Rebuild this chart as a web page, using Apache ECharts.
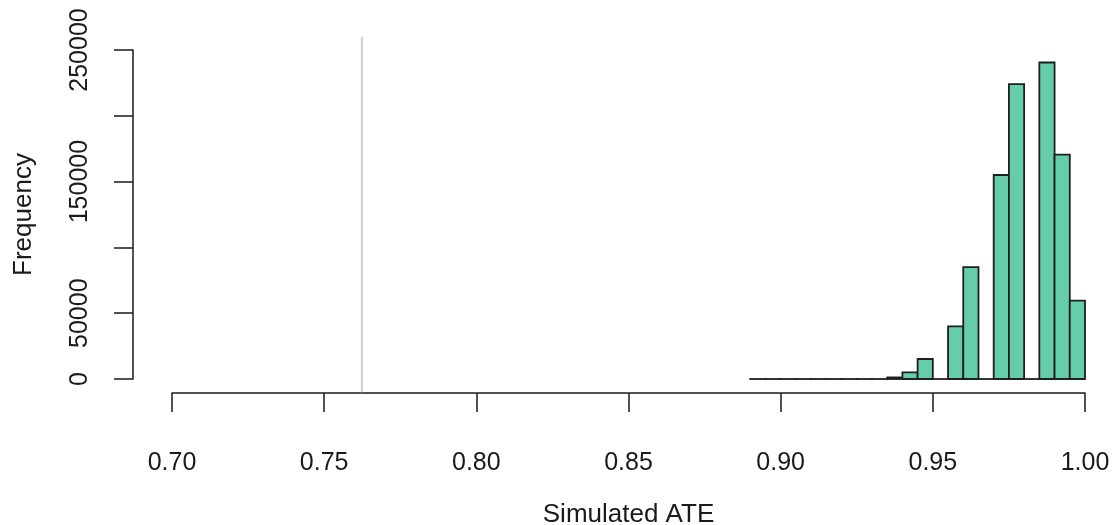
<!DOCTYPE html>
<html>
<head>
<meta charset="utf-8">
<script src="https://cdn.jsdelivr.net/npm/echarts@6/dist/echarts.min.js"></script>
<style>
  html, body { margin: 0; padding: 0; background: #ffffff; }
  #chart { width: 1113px; height: 525px; }
</style>
</head>
<body>
<div id="chart"></div>
<script>
// Histogram of simulated ATE values (bins of width 0.005)
const binLower = [0.890, 0.895, 0.900, 0.905, 0.910, 0.915, 0.920, 0.925, 0.930,
                  0.935, 0.940, 0.945, 0.950, 0.955, 0.960, 0.965, 0.970, 0.975,
                  0.980, 0.985, 0.990, 0.995];
const binWidth = 0.005;
const counts = [0, 0, 0, 0, 0, 0, 0, 0, 0,
                1200, 5000, 15200, 0, 40000, 85000, 0, 155000, 224000,
                0, 240500, 170500, 59500];

// Reference value shown as a vertical grey line
const observedATE = 0.7624;

// Axis ticks
const xTicks = [0.70, 0.75, 0.80, 0.85, 0.90, 0.95, 1.00];
const yTicks = [0, 50000, 100000, 150000, 200000, 250000];
const yTickLabelsShown = [0, 50000, 150000, 250000];

const bins = binLower.map((lo, i) => [lo, +(lo + binWidth).toFixed(3), counts[i]]);

const textColor = '#1a1a1a';
const font = '"Liberation Sans", Arial, sans-serif';

const chart = echarts.init(document.getElementById('chart'), null, { renderer: 'canvas' });

chart.setOption({
  animation: false,
  backgroundColor: '#ffffff',
  grid: {
    left: 172, right: 28, top: 50, bottom: 146,
    containLabel: false,
    outerBoundsMode: 'none'
  },
  xAxis: {
    type: 'value',
    position: 'bottom',
    min: xTicks[0],
    max: xTicks[xTicks.length - 1],
    interval: 0.05,
    offset: 14,
    splitLine: { show: false },
    axisLine: { show: true, onZero: false, lineStyle: { color: textColor, width: 1.5 } },
    axisTick: { show: true, length: 19, lineStyle: { color: textColor, width: 1.5 } },
    axisLabel: {
      margin: 58,
      color: textColor,
      fontFamily: font,
      fontSize: 25,
      formatter: v => v.toFixed(2)
    },
    name: 'Simulated ATE',
    nameLocation: 'middle',
    nameGap: 109,
    nameTextStyle: { color: textColor, fontFamily: font, fontSize: 26 }
  },
  yAxis: {
    type: 'value',
    min: yTicks[0],
    max: yTicks[yTicks.length - 1],
    interval: 50000,
    offset: 39,
    splitLine: { show: false },
    axisLine: { show: true, onZero: false, lineStyle: { color: textColor, width: 1.5 } },
    axisTick: { show: true, length: 19, lineStyle: { color: textColor, width: 1.5 } },
    axisLabel: {
      rotate: 90,
      margin: 40,
      color: textColor,
      fontFamily: font,
      fontSize: 25,
      formatter: v => (yTickLabelsShown.indexOf(v) >= 0 ? String(v) : '')
    },
    name: 'Frequency',
    nameLocation: 'middle',
    nameGap: 96,
    nameRotate: 90,
    nameTextStyle: { color: textColor, fontFamily: font, fontSize: 26 }
  },
  series: [
    {
      type: 'custom',
      clip: false,
      data: [[observedATE]],
      renderItem: function (params, api) {
        const v = api.value(0);
        const top = api.coord([v, 260000]);
        const bottom = api.coord([v, -10000]);
        return {
          type: 'line',
          shape: { x1: top[0], y1: top[1], x2: bottom[0], y2: bottom[1] },
          style: { stroke: '#d0d0d0', lineWidth: 2 }
        };
      }
    },
    {
      type: 'custom',
      clip: false,
      data: bins,
      encode: { x: [0, 1], y: 2 },
      renderItem: function (params, api) {
        const x0 = api.value(0), x1 = api.value(1), c = api.value(2);
        const p0 = api.coord([x0, 0]);
        const p1 = api.coord([x1, c]);
        if (c === 0) {
          // empty bin: a flat outline along the baseline
          return {
            type: 'line',
            shape: { x1: p0[0], y1: p0[1], x2: p1[0], y2: p0[1] },
            style: { stroke: '#1f1f1f', lineWidth: 1.8, lineCap: 'square' }
          };
        }
        return {
          type: 'rect',
          shape: { x: p0[0], y: p1[1], width: p1[0] - p0[0], height: p0[1] - p1[1] },
          style: { fill: '#66cdaa', stroke: '#1f1f1f', lineWidth: 1.8 }
        };
      }
    }
  ]
});
</script>
</body>
</html>
